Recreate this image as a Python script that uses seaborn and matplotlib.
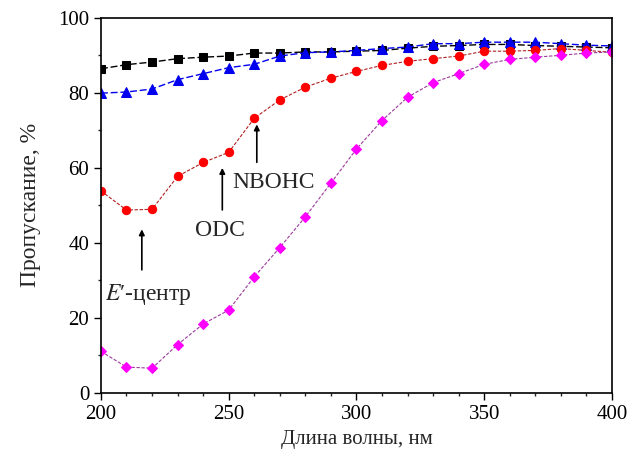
import matplotlib
matplotlib.use("Agg")
import matplotlib.pyplot as plt
import seaborn as sns
import numpy as np
import pandas as pd
from matplotlib.ticker import MultipleLocator

# Wavelengths, nm
wavelength = [200, 210, 220, 230, 240, 250, 260, 270, 280, 290, 300,
              310, 320, 330, 340, 350, 360, 370, 380, 390, 400]

# Transmission, %
t_black = [86.4, 87.5, 88.2, 89.1, 89.5, 89.8, 90.6, 90.6, 90.9, 90.9, 91.1,
           91.3, 91.9, 92.4, 92.6, 92.9, 92.9, 92.6, 92.4, 92.2, 92.0]
t_blue = [79.9, 80.2, 81.0, 83.5, 85.1, 86.7, 87.6, 89.8, 90.7, 90.9, 91.3,
          91.8, 92.2, 93.1, 93.1, 93.5, 93.5, 93.5, 93.1, 92.7, 92.5]
t_red = [53.8, 48.7, 48.9, 57.7, 61.4, 64.1, 73.2, 78.1, 81.5, 83.9, 85.7,
         87.3, 88.4, 89.1, 89.8, 91.1, 91.1, 91.3, 91.8, 91.3, 90.8]
t_magenta = [11.0, 6.8, 6.5, 12.8, 18.3, 22.0, 30.9, 38.7, 46.9, 55.9, 65.0,
             72.6, 78.8, 82.7, 85.1, 87.6, 88.9, 89.5, 90.0, 90.6, 90.9]

x_ticks = [200, 250, 300, 350, 400]
y_ticks = [0, 20, 40, 60, 80, 100]

sns.set_style("ticks")
plt.rcParams["font.family"] = ["Liberation Serif", "DejaVu Serif"]
plt.rcParams["mathtext.fontset"] = "stix"

fig = plt.figure(figsize=(6.27, 4.57), dpi=100)
ax = fig.add_axes([0.161, 0.141, 0.815, 0.820])

# drawn bottom to top: black, blue, red, magenta
series = [
    (t_black, "#000000", "#000000", "s", 5.5, (0, (5, 2)), 1.0),
    (t_blue, "#0000ee", "#0000ee", "^", 6.5, (0, (5, 2)), 1.0),
    (t_red, "#ff0000", "#b02020", "o", 6.0, (0, (3, 1.5)), 0.8),
    (t_magenta, "#ff00ff", "#9a3a9a", "D", 5.0, (0, (3, 1.5)), 0.8),
]
for vals, mcolor, lcolor, marker, ms, ls, lw in series:
    df = pd.DataFrame({"wl": wavelength, "t": vals})
    sns.lineplot(data=df, x="wl", y="t", ax=ax, color=lcolor, linewidth=lw,
                 linestyle=ls, marker=marker, markersize=ms,
                 markerfacecolor=mcolor, markeredgecolor=mcolor)

ax.set_xlim(200, 400)
ax.set_ylim(0, 100)
ax.set_xticks(x_ticks)
ax.set_yticks(y_ticks)
ax.xaxis.set_minor_locator(MultipleLocator(10))
ax.yaxis.set_minor_locator(MultipleLocator(10))
ax.tick_params(axis="both", which="major", direction="out", length=5,
               width=1, labelsize=15, colors="black")
ax.tick_params(axis="both", which="minor", direction="out", length=2.5,
               width=1)
ax.tick_params(axis="x", pad=4)
for s in ax.spines.values():
    s.set_visible(True)
    s.set_linewidth(1.2)
    s.set_color("black")

ax.set_xlabel("Длина волны, нм", fontsize=15, labelpad=4)
ax.set_ylabel("Пропускание, %", fontsize=17, labelpad=12)

arrow = dict(arrowstyle="-|>", color="black", lw=1.2, mutation_scale=8)
# NBOHC
ax.annotate("", xy=(261, 72.3), xytext=(261, 60.7), arrowprops=arrow)
ax.text(251.5, 56.0, "NBOHC", ha="left", va="center", fontsize=17)
# ODC
ax.annotate("", xy=(247.5, 60.7), xytext=(247.5, 48.0), arrowprops=arrow)
ax.text(246.5, 43.2, "ODC", ha="center", va="center", fontsize=17)
# E'-centre
ax.annotate("", xy=(216, 44.3), xytext=(216, 32.0), arrowprops=arrow)
ax.text(201.5, 26.3, "$E$′-центр", ha="left", va="center", fontsize=17)

fig.savefig("out.png", dpi=100)
